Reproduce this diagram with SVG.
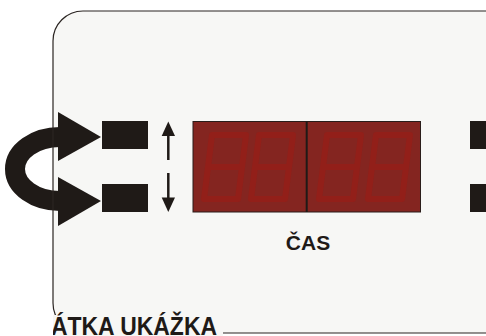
<svg xmlns="http://www.w3.org/2000/svg" width="486" height="336" viewBox="0 0 486 336">
<style>
.blk{fill:#1f1a17}
.seg{fill:none;stroke:#921f19;stroke-width:6;stroke-linejoin:round;stroke-linecap:round}
.lbl{font-family:"Liberation Sans","DejaVu Sans",sans-serif;font-weight:bold;fill:#1f1a17}
</style>
<defs>
<path id="d8" d="M0,135 H34 L26,199 H-8 Z M-4,167 H30"/>
<clipPath id="clipL"><rect x="53" y="0" width="433" height="336"/></clipPath>
</defs>
<rect width="486" height="336" fill="#ffffff"/>
<g id="panel">
<rect x="53" y="11" width="462" height="322" rx="30" ry="30" fill="#f7f7f5"/>
</g>
<g id="connectors">
<path d="M60,137 A45,32 0 0 0 60,201" fill="none" stroke="#1f1a17" stroke-width="20"/>
<polygon class="blk" points="58,112 101,137 58,161"/>
<polygon class="blk" points="58,177 101,201 58,226"/>
<g id="updown">
<line x1="168.3" y1="133" x2="168.3" y2="160" stroke="#1f1a17" stroke-width="2.5"/>
<polygon class="blk" points="168.3,121.5 175,136 161.7,136"/>
<line x1="168.3" y1="173" x2="168.3" y2="199" stroke="#1f1a17" stroke-width="2.5"/>
<polygon class="blk" points="168.3,212 175,197.5 161.7,197.5"/>
</g>
</g>
<rect x="53" y="11" width="462" height="322" rx="30" ry="30" fill="none" stroke="#2b2522" stroke-width="1.2"/>
<g id="leftButtons">
<rect class="blk" x="102" y="121" width="46" height="28"/>
<rect class="blk" x="102" y="184" width="46" height="28"/>
</g>
<g id="rightButtons">
<rect class="blk" x="470" y="121" width="20" height="28"/>
<rect class="blk" x="470" y="184" width="20" height="28"/>
</g>
<g id="display">
<rect x="193" y="121.5" width="227.5" height="90.5" fill="#842520" stroke="#2a1d1a" stroke-width="1"/>
<line x1="306.7" y1="121.5" x2="306.7" y2="212" stroke="#1f1a17" stroke-width="2"/>
<use href="#d8" class="seg" x="212"/>
<use href="#d8" class="seg" x="259"/>
<use href="#d8" class="seg" x="327"/>
<use href="#d8" class="seg" x="376"/>
</g>
<g id="casLabel">
<text class="lbl" x="308" y="250.3" font-size="21" text-anchor="middle">ČAS</text>
</g>
<g id="bottomLabel" clip-path="url(#clipL)">
<rect x="53" y="315" width="170" height="21" fill="#f7f7f5"/>
<text class="lbl" x="51" y="335" font-size="25" textLength="166" lengthAdjust="spacingAndGlyphs">ÁTKA UKÁŽKA</text>
</g>
</svg>
